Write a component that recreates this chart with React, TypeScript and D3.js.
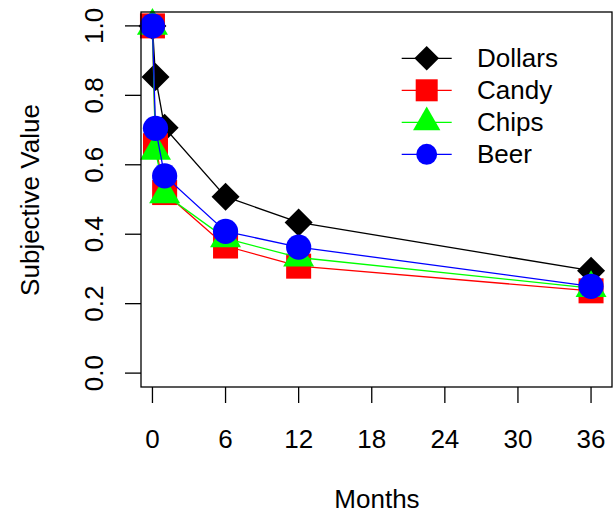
import React, { useEffect, useRef } from 'react';
import * as d3 from 'd3';

const months = [0, 0.25, 1, 6, 12, 36];
const dollars = [1.0, 0.853, 0.707, 0.508, 0.434, 0.295];
const candy = [1.0, 0.655, 0.52, 0.366, 0.308, 0.237];
const chips = [1.0, 0.64, 0.515, 0.388, 0.333, 0.245];
const beer = [1.0, 0.705, 0.568, 0.408, 0.363, 0.25];

const seriesNames = ['Dollars', 'Candy', 'Chips', 'Beer'];
const xTicks = [0, 6, 12, 18, 24, 30, 36];
const yTicks = [0, 0.2, 0.4, 0.6, 0.8, 1.0];

type Shape = 'diamond' | 'square' | 'triangle' | 'circle';

interface Series {
  name: string;
  values: number[];
  color: string;
  shape: Shape;
}

const series: Series[] = [
  { name: seriesNames[0], values: dollars, color: '#000000', shape: 'diamond' },
  { name: seriesNames[1], values: candy, color: '#ff0000', shape: 'square' },
  { name: seriesNames[2], values: chips, color: '#00ff00', shape: 'triangle' },
  { name: seriesNames[3], values: beer, color: '#0000ff', shape: 'circle' },
];

const FONT = '"Liberation Sans", Arial, Helvetica, sans-serif';

function drawSymbol(
  g: d3.Selection<SVGGElement, unknown, null, undefined>,
  shape: Shape,
  cx: number,
  cy: number,
  color: string,
  k: number
) {
  if (shape === 'circle') {
    g.append('circle').attr('cx', cx).attr('cy', cy).attr('r', 12.6 * k).attr('fill', color);
  } else if (shape === 'square') {
    const h = 12.5 * k;
    g.append('rect')
      .attr('x', cx - h)
      .attr('y', cy - h)
      .attr('width', 2 * h)
      .attr('height', 2 * h)
      .attr('fill', color);
  } else if (shape === 'diamond') {
    const h = 14 * k;
    g.append('path')
      .attr('d', `M${cx},${cy - h}L${cx + h},${cy}L${cx},${cy + h}L${cx - h},${cy}Z`)
      .attr('fill', color);
  } else {
    const w = 15.5 * k;
    const up = w * 1.1547;
    const dn = w * 0.5774;
    g.append('path')
      .attr('d', `M${cx},${cy - up}L${cx + w},${cy + dn}L${cx - w},${cy + dn}Z`)
      .attr('fill', color);
  }
}

export default function App() {
  const ref = useRef<SVGSVGElement>(null);

  useEffect(() => {
    document.body.style.margin = '0';
    const svg = d3.select(ref.current);
    svg.selectAll('*').remove();

    const box = { left: 141, right: 612, top: 12, bottom: 387 };

    const xScale = d3.scaleLinear().domain([-0.94, 37.72]).range([box.left, box.right]);
    const yScale = d3.scaleLinear().domain([-0.04, 1.04]).range([box.bottom, box.top]);

    // series: line then points, in order so Beer ends up on top
    const plot = svg.append('g');
    for (const s of series) {
      const line = d3
        .line<number>()
        .x((_, i) => xScale(months[i]))
        .y((d) => yScale(d));
      plot
        .append('path')
        .attr('d', line(s.values) as string)
        .attr('fill', 'none')
        .attr('stroke', s.color)
        .attr('stroke-width', 1.3);
      s.values.forEach((v, i) => {
        drawSymbol(plot, s.shape, xScale(months[i]), yScale(v), s.color, 1);
      });
    }

    // box
    svg
      .append('rect')
      .attr('x', box.left)
      .attr('y', box.top)
      .attr('width', box.right - box.left)
      .attr('height', box.bottom - box.top)
      .attr('fill', 'none')
      .attr('stroke', '#000')
      .attr('stroke-width', 1.3);

    // x axis
    const xAxis = svg.append('g');
    xAxis
      .selectAll('line')
      .data(xTicks)
      .enter()
      .append('line')
      .attr('x1', (d) => xScale(d))
      .attr('x2', (d) => xScale(d))
      .attr('y1', box.bottom)
      .attr('y2', box.bottom + 16)
      .attr('stroke', '#000')
      .attr('stroke-width', 1.3);
    xAxis
      .selectAll('text')
      .data(xTicks)
      .enter()
      .append('text')
      .attr('x', (d) => xScale(d))
      .attr('y', 448)
      .attr('text-anchor', 'middle')
      .attr('font-family', FONT)
      .attr('font-size', 26)
      .text((d) => d.toString());

    // y axis
    const yAxis = svg.append('g');
    yAxis
      .selectAll('line')
      .data(yTicks)
      .enter()
      .append('line')
      .attr('x1', box.left - 16)
      .attr('x2', box.left)
      .attr('y1', (d) => yScale(d))
      .attr('y2', (d) => yScale(d))
      .attr('stroke', '#000')
      .attr('stroke-width', 1.3);
    yAxis
      .selectAll('text')
      .data(yTicks)
      .enter()
      .append('text')
      .attr('transform', (d) => `translate(103, ${yScale(d)}) rotate(-90)`)
      .attr('text-anchor', 'middle')
      .attr('font-family', FONT)
      .attr('font-size', 26)
      .text((d) => d3.format('.1f')(d));

    // axis titles
    svg
      .append('text')
      .attr('x', 377)
      .attr('y', 508)
      .attr('text-anchor', 'middle')
      .attr('font-family', FONT)
      .attr('font-size', 26)
      .text('Months');
    svg
      .append('text')
      .attr('transform', `translate(39, 200) rotate(-90)`)
      .attr('text-anchor', 'middle')
      .attr('font-family', FONT)
      .attr('font-size', 26)
      .text('Subjective Value');

    // legend
    const legend = svg.append('g');
    series.forEach((s, i) => {
      const cy = 58.3 + i * 32;
      legend
        .append('line')
        .attr('x1', 401.7)
        .attr('x2', 451.7)
        .attr('y1', cy)
        .attr('y2', cy)
        .attr('stroke', s.color)
        .attr('stroke-width', 1.3);
      drawSymbol(legend, s.shape, 426.7, cy, s.color, s.shape === 'circle' ? 0.83 : 0.88);
      legend
        .append('text')
        .attr('x', 477)
        .attr('y', cy)
        .attr('dy', '0.35em')
        .attr('font-family', FONT)
        .attr('font-size', 26)
        .text(s.name);
    });
  }, []);

  return <svg ref={ref} width={613} height={513} style={{ display: 'block', background: '#fff' }} />;
}
